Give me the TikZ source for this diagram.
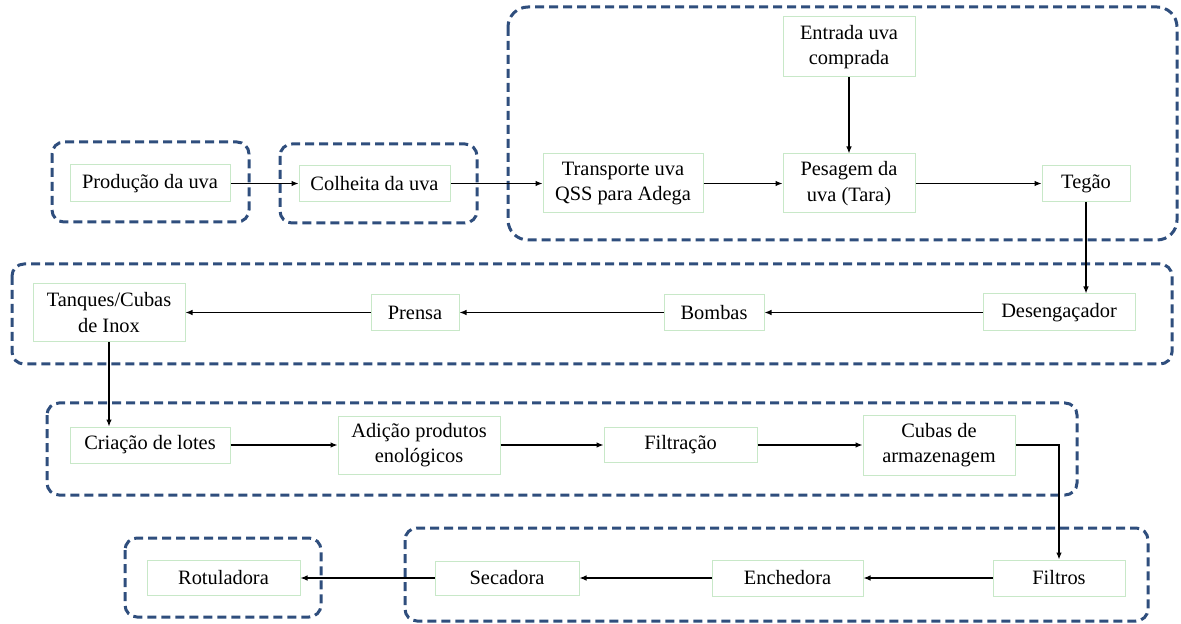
\documentclass[tikz,border=0pt]{standalone}
\usepackage{fontspec}
\setmainfont{Liberation Serif}
\usepackage{tikz}
\usetikzlibrary{arrows.meta}
\definecolor{caixaverde}{HTML}{C8E8C8}
\definecolor{grupoazul}{HTML}{2F4E7D}
\tikzset{
  etapa/.style={draw=caixaverde, line width=0.5pt, fill=white, inner sep=0pt, align=center,
    font=\fontsize{10.2}{12.6}\selectfont},
  grupo/.style={draw=grupoazul, line width=1.5pt, dash pattern=on 4.5pt off 2.5pt, rounded corners=6pt},
  fluxo/.style={line width=0.6pt, -{Latex[length=3.5pt,width=2.8pt]}}
}
\newcommand{\etapa}[6]{\node[etapa, minimum width=#4pt, minimum height=#5pt] (#1) at (#2,#3) {#6};}

\begin{document}
\begin{tikzpicture}[x=0.5pt, y=-0.5pt]
    \useasboundingbox (0,0) rectangle (1181,624);
    %grupos
    \draw[grupo] (52,142) rectangle (249,222);
    \draw[grupo] (280,144) rectangle (477,223);
    \draw[grupo, rounded corners=10pt] (508,7) rectangle (1177,240);
    \draw[grupo] (12,264) rectangle (1172,364);
    \draw[grupo] (47,403) rectangle (1077,495);
    \draw[grupo] (405,528) rectangle (1148,621);
    \draw[grupo] (125,538) rectangle (321,617);
    %etapas
    \etapa{prod}{150}{183.5}{80}{18.5}{Produção da uva}
    \etapa{colh}{374.5}{183.5}{75.5}{18}{Colheita da uva}
    \etapa{transp}{623}{183.5}{80}{29.5}{Transporte uva\\QSS para Adega}
    \etapa{entr}{849}{47}{66}{30}{Entrada uva\\comprada}
    \etapa{pesag}{849}{183.5}{66}{29.5}{Pesagem da\\uva (Tara)}
    \etapa{tegao}{1086}{183.5}{44}{18}{Tegão}
    \etapa{deseng}{1059}{312.5}{76}{18.5}{Desengaçador}
    \etapa{bombas}{714}{312.5}{50}{18}{Bombas}
    \etapa{prensa}{415}{312.5}{44}{18}{Prensa}
    \etapa{tanq}{109}{312.5}{76}{29}{Tanques/Cubas\\de Inox}
    \etapa{criac}{150}{445}{80}{18}{Criação de lotes}
    \etapa{adic}{419}{445}{81}{29}{Adição produtos\\enológicos}
    \etapa{filtr}{680.5}{445}{76.5}{17.5}{Filtração}
    \etapa{cubas}{939}{445}{76}{30}{Cubas de\\armazenagem}
    \etapa{filtros}{1059}{578}{66}{18}{Filtros}
    \etapa{ench}{787.5}{578}{75.5}{18}{Enchedora}
    \etapa{secad}{507}{578}{72}{17}{Secadora}
    \etapa{rotul}{223.5}{578}{76.5}{17.5}{Rotuladora}
    %fluxo
    \draw[fluxo] (prod) -- (colh);
    \draw[fluxo] (colh) -- (transp);
    \draw[fluxo] (transp) -- (pesag);
    \draw[fluxo] (entr) -- (pesag);
    \draw[fluxo] (pesag) -- (tegao);
    \draw[fluxo] (tegao.south) -- (tegao.south |- deseng.north);
    \draw[fluxo] (deseng) -- (bombas);
    \draw[fluxo] (bombas) -- (prensa);
    \draw[fluxo] (prensa) -- (tanq);
    \draw[fluxo] (tanq.south) -- (tanq.south |- criac.north);
    \draw[fluxo] (criac) -- (adic);
    \draw[fluxo] (adic) -- (filtr);
    \draw[fluxo] (filtr) -- (cubas);
    \draw[fluxo] (cubas.east) -| (filtros.north);
    \draw[fluxo] (filtros) -- (ench);
    \draw[fluxo] (ench) -- (secad);
    \draw[fluxo] (secad) -- (rotul);
\end{tikzpicture}
\end{document}
